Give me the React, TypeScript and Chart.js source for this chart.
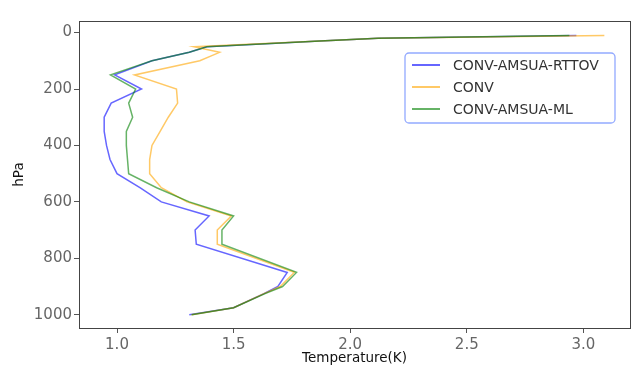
import React, { useEffect, useRef } from 'react';
import { Chart, registerables } from 'chart.js';
Chart.register(...registerables);

const levels = [10, 20, 30, 50, 70, 100, 150, 200, 250, 300, 350, 400, 450, 500, 550, 600, 650, 700, 750, 850, 900, 925, 975, 1000];
const rttov = [2.97, 2.12, 1.87, 1.385, 1.31, 1.15, 0.99, 1.105, 0.975, 0.945, 0.945, 0.955, 0.97, 1.0, 1.1, 1.19, 1.395, 1.335, 1.34, 1.73, 1.69, 1.63, 1.5, 1.31];
const conv = [3.09, 2.12, 1.87, 1.33, 1.44, 1.355, 1.075, 1.255, 1.26, 1.22, 1.185, 1.15, 1.14, 1.14, 1.19, 1.3, 1.49, 1.43, 1.43, 1.76, 1.7, 1.63, 1.5, 1.32];
const ml = [2.94, 2.12, 1.87, 1.385, 1.31, 1.15, 0.972, 1.08, 1.05, 1.067, 1.04, 1.04, 1.045, 1.05, 1.17, 1.31, 1.5, 1.45, 1.45, 1.77, 1.71, 1.635, 1.5, 1.32];
const seriesNames = ['CONV-AMSUA-RTTOV', 'CONV', 'CONV-AMSUA-ML'];
const seriesColors = ['rgba(0,0,255,0.6)', 'rgba(255,165,0,0.6)', 'rgba(0,128,0,0.6)'];
const xTicks = [1.0, 1.5, 2.0, 2.5, 3.0];
const yTicks = [0, 200, 400, 600, 800, 1000];
const xTitle = 'Temperature(K)';
const yTitle = 'hPa';

const FONT = "'DejaVu Sans', sans-serif";

export default function App() {
  const ref = useRef<HTMLCanvasElement | null>(null);
  useEffect(() => {
    document.body.style.margin = '0';
    const canvas = ref.current!;
    const all = [rttov, conv, ml];
    const frame = {
      id: 'frame',
      afterDatasetsDraw(chart: any) {
        const { ctx, chartArea: a } = chart;
        ctx.save();
        ctx.strokeStyle = '#444';
        ctx.lineWidth = 1;
        ctx.strokeRect(Math.round(a.left) + 0.5, Math.round(a.top) + 0.5, Math.round(a.right - a.left), Math.round(a.bottom - a.top));
        ctx.restore();
      },
    };
    const legendBox = {
      id: 'legendBox',
      afterDraw(chart: any) {
        const { ctx, chartArea: a } = chart;
        const w = 210, h = 70;
        const x0 = a.right - 15 - w;
        const y0 = a.top + 32;
        ctx.save();
        ctx.fillStyle = 'rgba(255,255,255,0.9)';
        ctx.strokeStyle = 'rgba(110,140,255,0.75)';
        ctx.lineWidth = 1.3;
        ctx.beginPath();
        (ctx as any).roundRect(x0, y0, w, h, 4);
        ctx.fill();
        ctx.stroke();
        ctx.font = `14px ${FONT}`;
        ctx.textBaseline = 'middle';
        ctx.textAlign = 'left';
        seriesNames.forEach((name, i) => {
          const cy = y0 + 12 + i * 22;
          ctx.strokeStyle = seriesColors[i];
          ctx.lineWidth = 2;
          ctx.beginPath();
          ctx.moveTo(x0 + 7, cy);
          ctx.lineTo(x0 + 35, cy);
          ctx.stroke();
          ctx.fillStyle = '#333';
          ctx.fillText(name, x0 + 48, cy + 1);
        });
        ctx.restore();
      },
    };
    const chart = new Chart(canvas, {
      type: 'scatter',
      data: {
        datasets: seriesNames.map((name, i) => ({
          label: name,
          data: levels.map((p, j) => ({ x: all[i][j], y: p })),
          showLine: true,
          order: seriesNames.length - 1 - i,
          borderColor: seriesColors[i],
          backgroundColor: seriesColors[i],
          borderWidth: 1.5,
          pointRadius: 0,
          tension: 0,
        })),
      },
      options: {
        animation: false,
        responsive: false,
        maintainAspectRatio: false,
        layout: { padding: { top: 21, right: 10, left: 0, bottom: 0 } },
        plugins: { legend: { display: false }, tooltip: { enabled: false } },
        scales: {
          x: {
            type: 'linear',
            min: 0.837,
            max: 3.2,
            afterBuildTicks: (s: any) => { s.ticks = xTicks.map((v) => ({ value: v })); },
            afterFit: (s: any) => { s.height = 53; },
            border: { display: false },
            grid: { drawOnChartArea: false, drawTicks: true, tickLength: 5, color: '#555' },
            ticks: { color: '#666', font: { family: FONT, size: 15 }, padding: 3, callback: (v: any) => Number(v).toFixed(1), maxRotation: 0 },
            title: { display: true, text: xTitle, color: '#111', font: { family: FONT, size: 13.5 }, padding: { top: 0, bottom: 14 } },
          },
          y: {
            type: 'linear',
            reverse: true,
            min: -41,
            max: 1047,
            afterBuildTicks: (s: any) => { s.ticks = yTicks.map((v) => ({ value: v })); },
            afterFit: (s: any) => { s.width = 79; },
            border: { display: false },
            grid: { drawOnChartArea: false, drawTicks: true, tickLength: 5, color: '#555' },
            ticks: { color: '#666', font: { family: FONT, size: 15 }, padding: 2, callback: (v: any) => String(v) },
            title: { display: true, text: yTitle, color: '#111', font: { family: FONT, size: 13.5 }, padding: { top: 11, bottom: 0 } },
          },
        },
      },
      plugins: [frame, legendBox],
    });
    return () => chart.destroy();
  }, []);
  return (
    <div style={{ position: 'absolute', left: 0, top: 0, width: 640, height: 381, background: '#fff' }}>
      <canvas ref={ref} width={640} height={381} style={{ width: 640, height: 381 }} />
    </div>
  );
}
